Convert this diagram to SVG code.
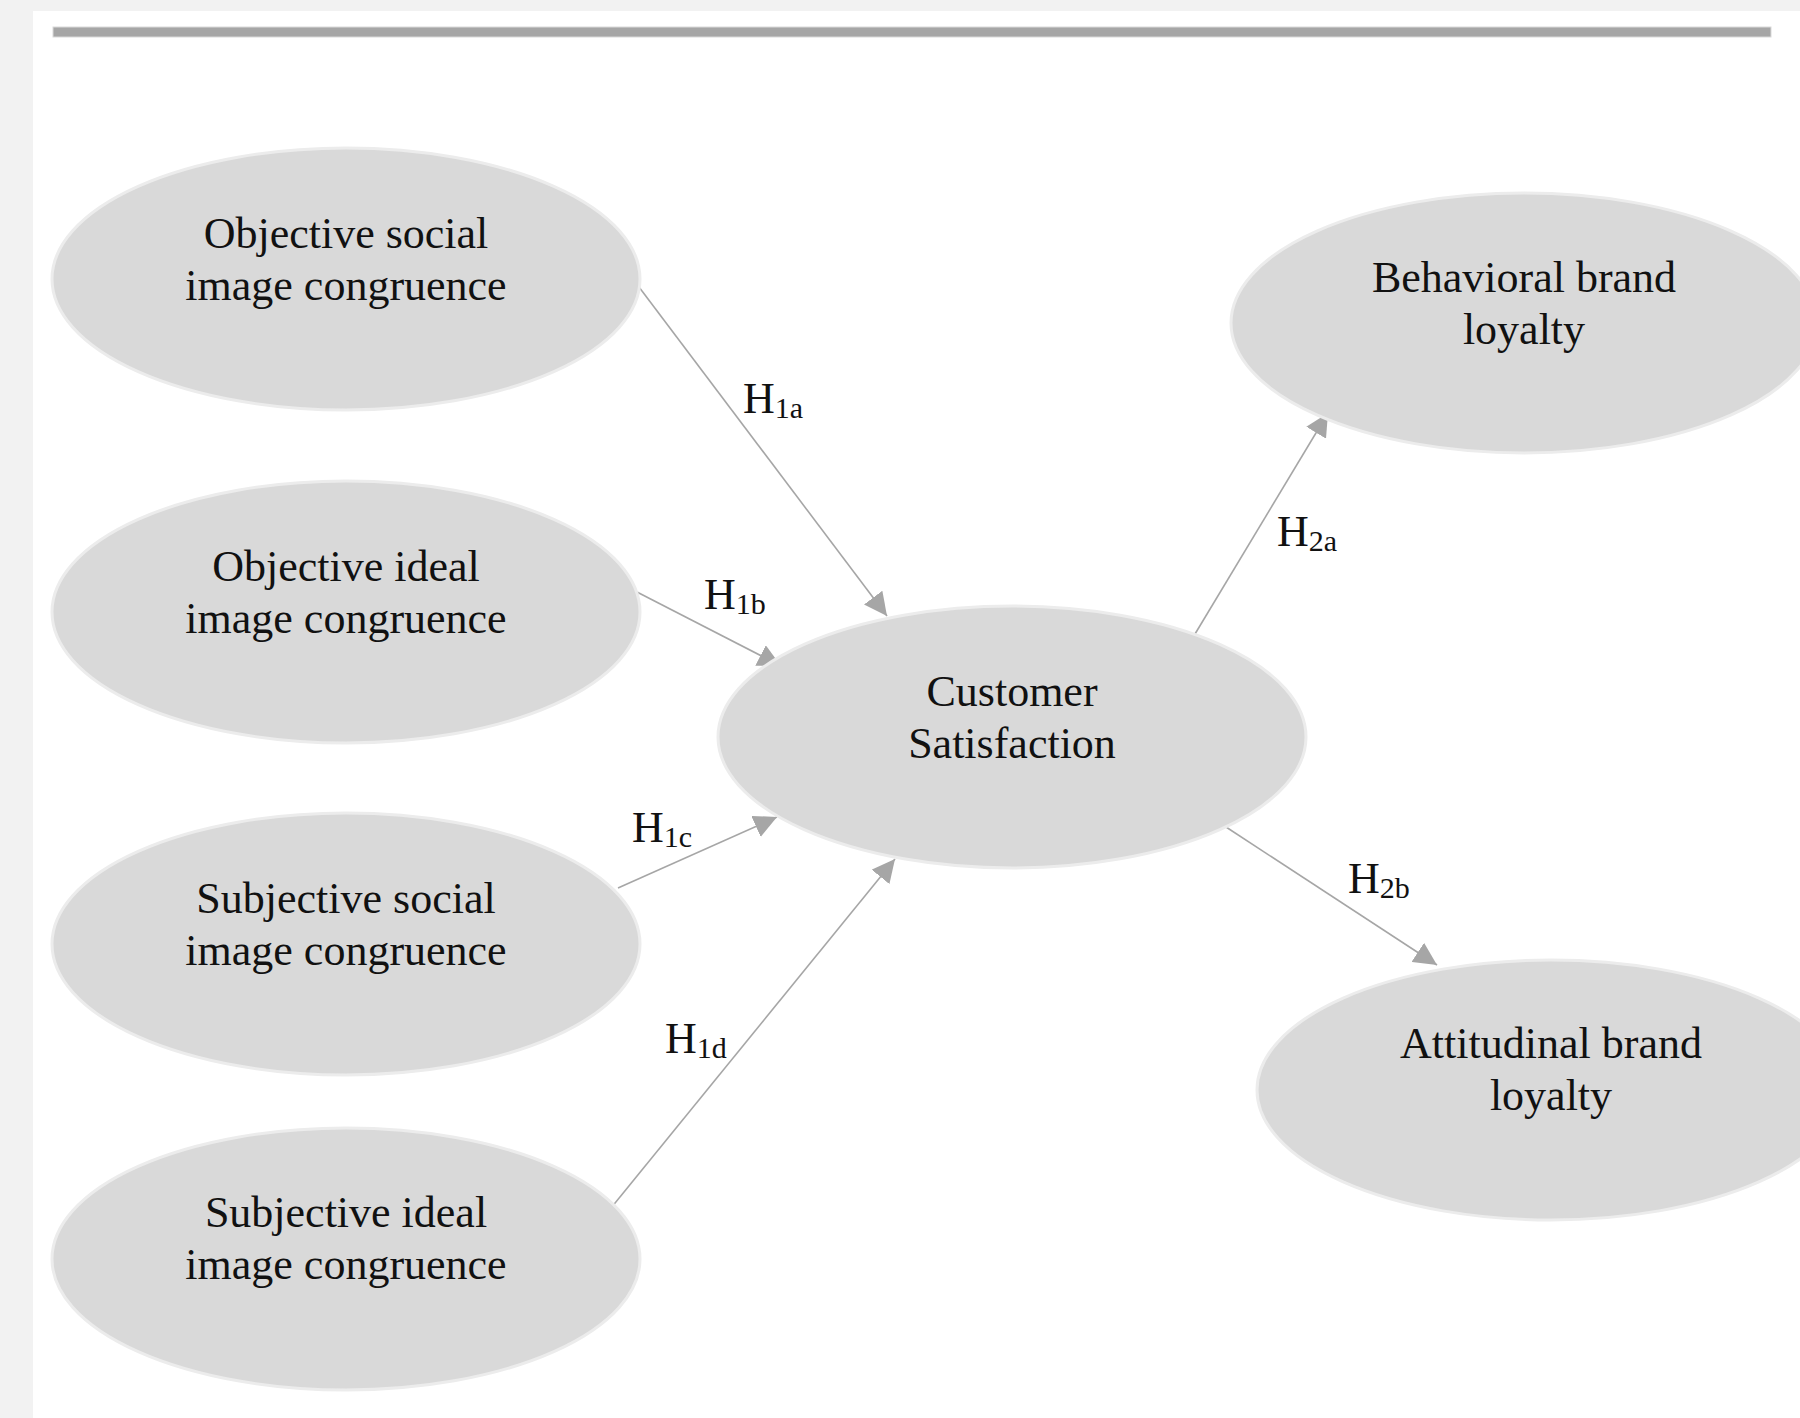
<svg xmlns="http://www.w3.org/2000/svg" width="1800" height="1418" viewBox="0 0 1800 1418">
<style>
.node ellipse{fill:#d9d9d9;stroke:#ececec;stroke-width:3}
.node text{font-family:"Liberation Serif","Times New Roman",serif;font-size:44px;fill:#111;text-anchor:middle}
.conn line{stroke:#a6a6a6;stroke-width:1.6;fill:none}
.lbl{font-family:"Liberation Serif","Times New Roman",serif;font-size:44px;fill:#111}
.sub{font-size:30px}
</style>
<defs>
<marker id="ah" markerUnits="userSpaceOnUse" markerWidth="23" markerHeight="23" refX="23" refY="11.5" orient="auto">
<path d="M0,0 L23,11.5 L0,23 Z" fill="#a6a6a6"/>
</marker>
</defs>
<rect x="0" y="0" width="1800" height="1418" fill="#f2f2f2"/>
<rect x="33" y="11" width="1767" height="1407" fill="#ffffff"/>
<rect x="53" y="27" width="1718" height="10" fill="#a6a6a6" stroke="#d9d9d9" stroke-width="1"/>

<g id="connectors" class="conn">
<line x1="639" y1="287" x2="887" y2="616" marker-end="url(#ah)"/>
<line x1="635" y1="591" x2="781" y2="666" marker-end="url(#ah)"/>
<line x1="618" y1="888" x2="777" y2="817" marker-end="url(#ah)"/>
<line x1="611" y1="1208" x2="895" y2="859" marker-end="url(#ah)"/>
<line x1="1195" y1="634" x2="1328" y2="413" marker-end="url(#ah)"/>
<line x1="1226" y1="827" x2="1437" y2="965" marker-end="url(#ah)"/>
<text class="lbl" x="743" y="413">H<tspan class="sub" dy="5">1a</tspan></text>
<text class="lbl" x="704" y="609">H<tspan class="sub" dy="5">1b</tspan></text>
<text class="lbl" x="632" y="842">H<tspan class="sub" dy="5">1c</tspan></text>
<text class="lbl" x="665" y="1053">H<tspan class="sub" dy="5">1d</tspan></text>
<text class="lbl" x="1277" y="546">H<tspan class="sub" dy="5">2a</tspan></text>
<text class="lbl" x="1348" y="893">H<tspan class="sub" dy="5">2b</tspan></text>
</g>

<g id="n-objective-social" class="node">
<ellipse cx="346" cy="279" rx="294" ry="131"/>
<text x="346" y="248">Objective social</text>
<text x="346" y="300">image congruence</text>
</g>
<g id="n-objective-ideal" class="node">
<ellipse cx="346" cy="612" rx="294" ry="131"/>
<text x="346" y="581">Objective ideal</text>
<text x="346" y="633">image congruence</text>
</g>
<g id="n-subjective-social" class="node">
<ellipse cx="346" cy="944" rx="294" ry="131"/>
<text x="346" y="913">Subjective social</text>
<text x="346" y="965">image congruence</text>
</g>
<g id="n-subjective-ideal" class="node">
<ellipse cx="346" cy="1259" rx="294" ry="131"/>
<text x="346" y="1227">Subjective ideal</text>
<text x="346" y="1279">image congruence</text>
</g>
<g id="n-customer-satisfaction" class="node">
<ellipse cx="1012" cy="737" rx="294" ry="131"/>
<text x="1012" y="706">Customer</text>
<text x="1012" y="758">Satisfaction</text>
</g>
<g id="n-behavioral" class="node">
<ellipse cx="1524" cy="323" rx="293" ry="130"/>
<text x="1524" y="292">Behavioral brand</text>
<text x="1524" y="344">loyalty</text>
</g>
<g id="n-attitudinal" class="node">
<ellipse cx="1551" cy="1090" rx="294" ry="130"/>
<text x="1551" y="1058">Attitudinal brand</text>
<text x="1551" y="1110">loyalty</text>
</g>
</svg>
